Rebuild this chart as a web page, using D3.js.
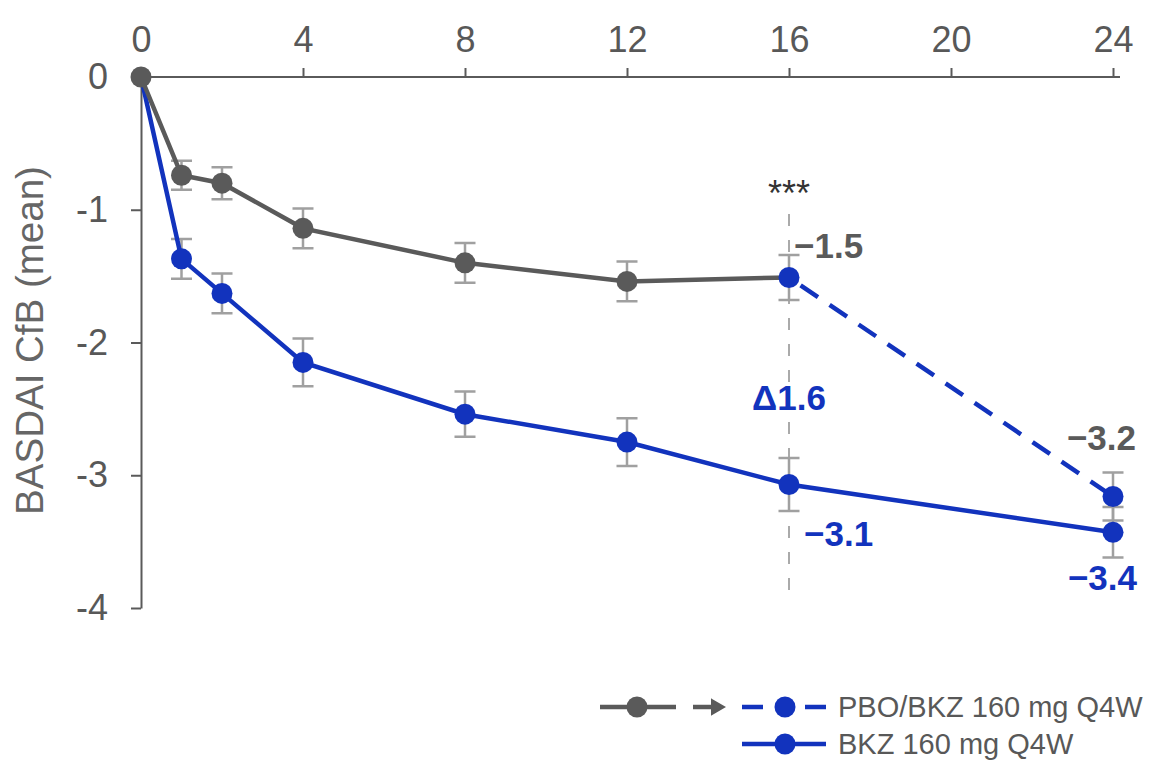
<!DOCTYPE html>
<html>
<head>
<meta charset="utf-8">
<script src="https://cdn.jsdelivr.net/npm/d3@7"></script>
<style>
  html, body { margin: 0; padding: 0; background: #fff; }
  svg { display: block; font-family: "Liberation Sans", Arial, sans-serif; }
</style>
</head>
<body>
<svg id="chart" width="1151" height="761"></svg>
<script>
// Weeks of assessment
const weeks = [0, 1, 2, 4, 8, 12, 16];
const xTicks = [0, 4, 8, 12, 16, 20, 24];
const yTicks = [0, -1, -2, -3, -4];

// Placebo arm (weeks 0–16), mean change from baseline and SE
const pboMean = [0, -0.74, -0.80, -1.14, -1.40, -1.54, -1.51];
const pboErr  = [0, 0.11, 0.12, 0.15, 0.15, 0.15, 0.17];

// Placebo switched to BKZ (week 16 -> 24)
const switchWeeks = [16, 24];
const switchMean = [-1.51, -3.16];
const switchErr  = [0.17, 0.18];

// BKZ 160 mg Q4W arm
const bkzWeeks = [0, 1, 2, 4, 8, 12, 16, 24];
const bkzMean = [0, -1.37, -1.63, -2.15, -2.54, -2.75, -3.07, -3.43];
const bkzErr  = [0, 0.15, 0.15, 0.18, 0.17, 0.18, 0.20, 0.19];

const legendLabels = ["PBO/BKZ 160 mg Q4W", "BKZ 160 mg Q4W"];
const yTitle = "BASDAI CfB (mean)";

const GREY = "#5a5a5a";
const BLUE = "#1233bd";
const ERR = "#a0a0a0";
const TEXT = "#585858";
const FONT = '"Liberation Sans", Arial, sans-serif';

const svg = d3.select("#chart");
const x = d3.scaleLinear().domain([0, 24]).range([141, 1113]);
const y = d3.scaleLinear().domain([0, -4]).range([77, 608]);

const fmt = v => d3.format(".1f")(v).replace("-", "\u2212");

// ---- axes ----
const xAxis = svg.append("g").attr("transform", `translate(0,${y(0)})`)
  .call(d3.axisTop(x).tickValues(xTicks).tickSize(9).tickSizeOuter(0).tickPadding(16));
xAxis.select(".domain").remove();
xAxis.append("line").attr("x1", x(0)).attr("x2", x(24) + 7)
  .attr("stroke", GREY).attr("stroke-width", 2);
xAxis.selectAll(".tick line").attr("stroke", GREY).attr("stroke-width", 2);
xAxis.selectAll(".tick text").attr("fill", TEXT).attr("font-size", 36)
  .style("font-family", FONT);

const yAxis = svg.append("g").attr("transform", `translate(${x(0)},0)`)
  .call(d3.axisLeft(y).tickValues(yTicks).tickSize(10).tickSizeOuter(0).tickPadding(23)
        .tickFormat(d => String(d)));
yAxis.select(".domain").attr("stroke", GREY).attr("stroke-width", 2);
yAxis.selectAll(".tick line").attr("stroke", GREY).attr("stroke-width", 2);
yAxis.selectAll(".tick text").attr("fill", TEXT).attr("font-size", 36)
  .style("font-family", FONT);

svg.append("text")
  .attr("transform", `translate(43,${(y(0) + y(-4)) / 2 - 2}) rotate(-90)`)
  .attr("text-anchor", "middle")
  .attr("fill", "#666").attr("font-size", 38.5)
  .text(yTitle);

// ---- week 16 reference line ----
svg.append("line")
  .attr("x1", x(16)).attr("x2", x(16))
  .attr("y1", 214).attr("y2", 600)
  .attr("stroke", "#aaaaaa").attr("stroke-width", 2)
  .attr("stroke-dasharray", "12,14");

svg.append("text").attr("x", x(16)).attr("y", 206)
  .attr("text-anchor", "middle").attr("fill", "#333").attr("font-size", 36)
  .text("***");

// ---- error bars ----
function errorBars(xs, ms, es) {
  const data = xs.map((w, i) => ({ w, m: ms[i], e: es[i] })).filter(d => d.e > 0);
  const g = svg.append("g").attr("stroke", ERR).attr("stroke-width", 2.5).attr("fill", "none");
  g.selectAll("path").data(data).join("path")
    .attr("d", d => {
      const cx = x(d.w), hi = y(d.m + d.e), lo = y(d.m - d.e), c = 10.5;
      return `M${cx},${hi}V${lo}M${cx - c},${hi}H${cx + c}M${cx - c},${lo}H${cx + c}`;
    });
}
errorBars(weeks, pboMean, pboErr);
errorBars(bkzWeeks, bkzMean, bkzErr);
errorBars([24], [switchMean[1]], [switchErr[1]]);

// ---- lines ----
const line = d3.line().x(d => x(d[0])).y(d => y(d[1]));
svg.append("path")
  .datum(bkzWeeks.map((w, i) => [w, bkzMean[i]]))
  .attr("d", line).attr("fill", "none").attr("stroke", BLUE).attr("stroke-width", 4.5);
svg.append("path")
  .datum(weeks.map((w, i) => [w, pboMean[i]]))
  .attr("d", line).attr("fill", "none").attr("stroke", GREY).attr("stroke-width", 4.5);
svg.append("path")
  .datum(switchWeeks.map((w, i) => [w, switchMean[i]]))
  .attr("d", line).attr("fill", "none").attr("stroke", BLUE).attr("stroke-width", 4.5)
  .attr("stroke-dasharray", "21,14").attr("stroke-dashoffset", -14);

// ---- markers ----
const R = 10.5;
svg.append("g").selectAll("circle")
  .data(bkzWeeks.slice(1).map((w, i) => [w, bkzMean[i + 1]]))
  .join("circle").attr("cx", d => x(d[0])).attr("cy", d => y(d[1])).attr("r", R).attr("fill", BLUE);
svg.append("g").selectAll("circle")
  .data(weeks.slice(0, -1).map((w, i) => [w, pboMean[i]]))
  .join("circle").attr("cx", d => x(d[0])).attr("cy", d => y(d[1])).attr("r", R).attr("fill", GREY);
svg.append("g").selectAll("circle")
  .data(switchWeeks.map((w, i) => [w, switchMean[i]]))
  .join("circle").attr("cx", d => x(d[0])).attr("cy", d => y(d[1])).attr("r", R).attr("fill", BLUE);

// ---- value labels ----
const lab = (xp, yp, txt, col, anchor) => svg.append("text")
  .attr("x", xp).attr("y", yp).attr("text-anchor", anchor || "start")
  .attr("fill", col).attr("font-size", 35).attr("font-weight", "bold").text(txt);
lab(x(16) + 5, y(switchMean[0]) - 19, fmt(switchMean[0]), GREY);
lab(x(16) + 15, y(bkzMean[6]) + 61, fmt(bkzMean[6]), BLUE);
lab(x(24) + 23, y(switchMean[1]) - 46, fmt(switchMean[1]), GREY, "end");
lab(x(24) + 24, y(bkzMean[7]) + 58, fmt(bkzMean[7]), BLUE, "end");
lab(x(16), 410, "\u0394" + d3.format(".1f")(switchMean[0] - bkzMean[6]), BLUE, "middle");

// ---- legend ----
const lg = svg.append("g");
const r1 = 707, r2 = 744;
lg.append("line").attr("x1", 600).attr("x2", 676).attr("y1", r1).attr("y2", r1)
  .attr("stroke", GREY).attr("stroke-width", 4.5);
lg.append("circle").attr("cx", 637).attr("cy", r1).attr("r", R).attr("fill", GREY);
lg.append("line").attr("x1", 693).attr("x2", 718).attr("y1", r1).attr("y2", r1)
  .attr("stroke", GREY).attr("stroke-width", 4.5);
lg.append("path").attr("d", `M712,${r1 - 7}L724,${r1}L712,${r1 + 7}Z`)
  .attr("fill", GREY).attr("stroke", GREY).attr("stroke-width", 2);
lg.append("line").attr("x1", 742).attr("x2", 826).attr("y1", r1).attr("y2", r1)
  .attr("stroke", BLUE).attr("stroke-width", 4.5).attr("stroke-dasharray", "21,42,21");
lg.append("circle").attr("cx", 785).attr("cy", r1).attr("r", R).attr("fill", BLUE);
lg.append("line").attr("x1", 742).attr("x2", 826).attr("y1", r2).attr("y2", r2)
  .attr("stroke", BLUE).attr("stroke-width", 4.5);
lg.append("circle").attr("cx", 785).attr("cy", r2).attr("r", R).attr("fill", BLUE);
lg.selectAll("text").data(legendLabels).join("text")
  .attr("x", 838).attr("y", (d, i) => (i ? r2 : r1) + 10)
  .attr("fill", TEXT).attr("font-size", 29).text(d => d);
</script>
</body>
</html>
